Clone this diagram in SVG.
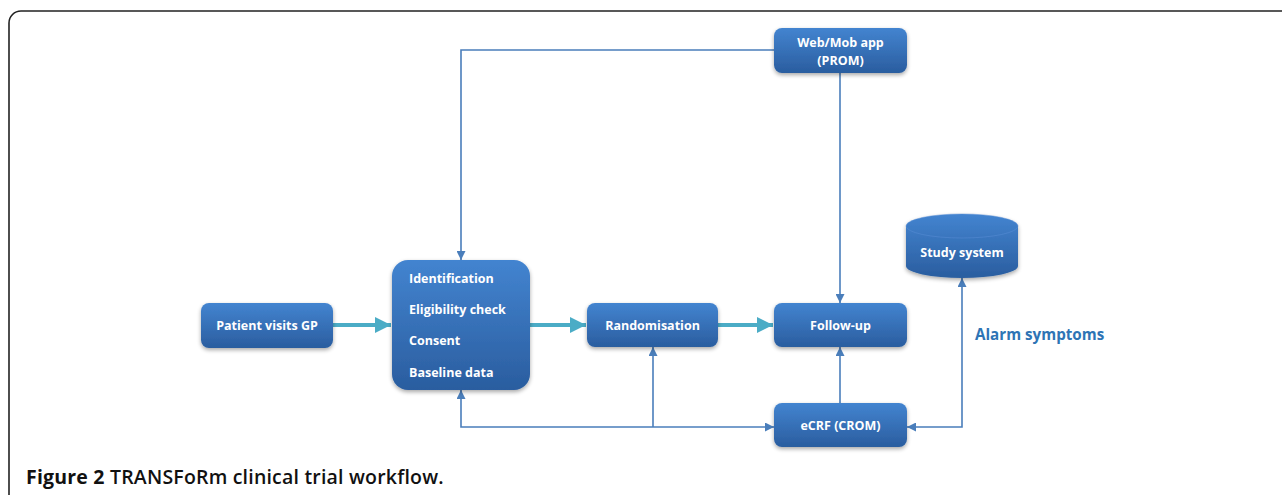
<svg xmlns="http://www.w3.org/2000/svg" width="1282" height="495" viewBox="0 0 1282 495">
<defs>
<linearGradient id="g" x1="0" y1="0" x2="0" y2="1">
<stop offset="0" stop-color="#4384d0"/>
<stop offset="1" stop-color="#2a5d9f"/>
</linearGradient>
<filter id="sh" x="-20%" y="-20%" width="140%" height="150%">
<feGaussianBlur in="SourceAlpha" stdDeviation="2"/>
<feOffset dx="0" dy="2" result="b"/>
<feComponentTransfer><feFuncA type="linear" slope="0.35"/></feComponentTransfer>
<feMerge><feMergeNode/><feMergeNode in="SourceGraphic"/></feMerge>
</filter>
<marker id="ab" viewBox="0 0 10 10" refX="10" refY="5" markerWidth="9" markerHeight="9" markerUnits="userSpaceOnUse" orient="auto-start-reverse">
<path d="M0,0 L10,5 L0,10 Z" fill="#4a7ebb"/>
</marker>
<marker id="at" viewBox="0 0 10 10" refX="10" refY="5" markerWidth="4" markerHeight="4" orient="auto">
<path d="M0,0 L10,5 L0,10 Z" fill="#4bacc6"/>
</marker>
</defs>
<style>
.box{fill:url(#g);filter:url(#sh)}
.t{fill:#fff;font-family:"Open Sans","Liberation Sans",sans-serif;font-weight:bold;font-size:12.5px}
.c{fill:none;stroke:#4a7ebb;stroke-width:1.6}
.th{fill:none;stroke:#4bacc6;stroke-width:4}
</style>
<path d="M9,495 V23 A12,12 0 0 1 21,11 H1282" fill="none" stroke="#222" stroke-width="1.6"/>
<g id="connectors">
<line class="th" x1="333" y1="325" x2="391" y2="325" marker-end="url(#at)"/>
<line class="th" x1="530" y1="325" x2="586" y2="325" marker-end="url(#at)"/>
<line class="th" x1="718" y1="325" x2="773" y2="325" marker-end="url(#at)"/>
<polyline class="c" points="774,50 461,50 461,260" marker-end="url(#ab)"/>
<line class="c" x1="840" y1="73" x2="840" y2="303" marker-end="url(#ab)"/>
<line class="c" x1="840" y1="403" x2="840" y2="347" marker-end="url(#ab)"/>
<polyline class="c" points="653,427 461,427 461,390" marker-end="url(#ab)"/>
<line class="c" x1="653" y1="427" x2="774" y2="427" marker-end="url(#ab)"/>
<line class="c" x1="653" y1="427" x2="653" y2="347" marker-end="url(#ab)"/>
<polyline class="c" points="962,278 962,427 907,427" marker-start="url(#ab)" marker-end="url(#ab)"/>
</g>
<g id="n-patient">
<rect class="box" x="201" y="303" width="132" height="45" rx="8"/>
<text class="t" x="267" y="330" text-anchor="middle">Patient visits GP</text>
</g>
<g id="n-ident">
<rect class="box" x="392" y="260" width="138" height="130" rx="16"/>
<text class="t" x="409" y="283">Identification</text>
<text class="t" x="409" y="314">Eligibility check</text>
<text class="t" x="409" y="345">Consent</text>
<text class="t" x="409" y="377">Baseline data</text>
</g>
<g id="n-random">
<rect class="box" x="587" y="303" width="131" height="44" rx="8"/>
<text class="t" x="652.5" y="330" text-anchor="middle">Randomisation</text>
</g>
<g id="n-follow">
<rect class="box" x="774" y="303" width="133" height="44" rx="8"/>
<text class="t" x="840.5" y="330" text-anchor="middle">Follow-up</text>
</g>
<g id="n-ecrf">
<rect class="box" x="774" y="403" width="133" height="44" rx="8"/>
<text class="t" x="840.5" y="430" text-anchor="middle">eCRF (CROM)</text>
</g>
<g id="n-web">
<rect class="box" x="774" y="28" width="133" height="45" rx="8"/>
<text class="t" x="840.5" y="47" text-anchor="middle">Web/Mob app</text>
<text class="t" x="840.5" y="65" text-anchor="middle">(PROM)</text>
</g>
<g id="n-study">
<path class="box" d="M906,226 A56,12 0 0 1 1018,226 V266 A56,12 0 0 1 906,266 Z"/>
<ellipse cx="962" cy="226" rx="56" ry="12" fill="none" stroke="#5b8fd6" stroke-width="0.8" opacity="0.6"/>
<text class="t" x="962" y="257" text-anchor="middle">Study system</text>
</g>
<text x="975" y="340" font-family="'Open Sans','Liberation Sans',sans-serif" font-weight="bold" font-size="15.2" fill="#2e74b5">Alarm symptoms</text>
<text x="26" y="484" font-family="'Open Sans','Liberation Sans',sans-serif" font-size="19.5" font-weight="600" letter-spacing="0.2" fill="#111"><tspan font-weight="bold">Figure 2</tspan> TRANSFoRm clinical trial workflow.</text>
</svg>
